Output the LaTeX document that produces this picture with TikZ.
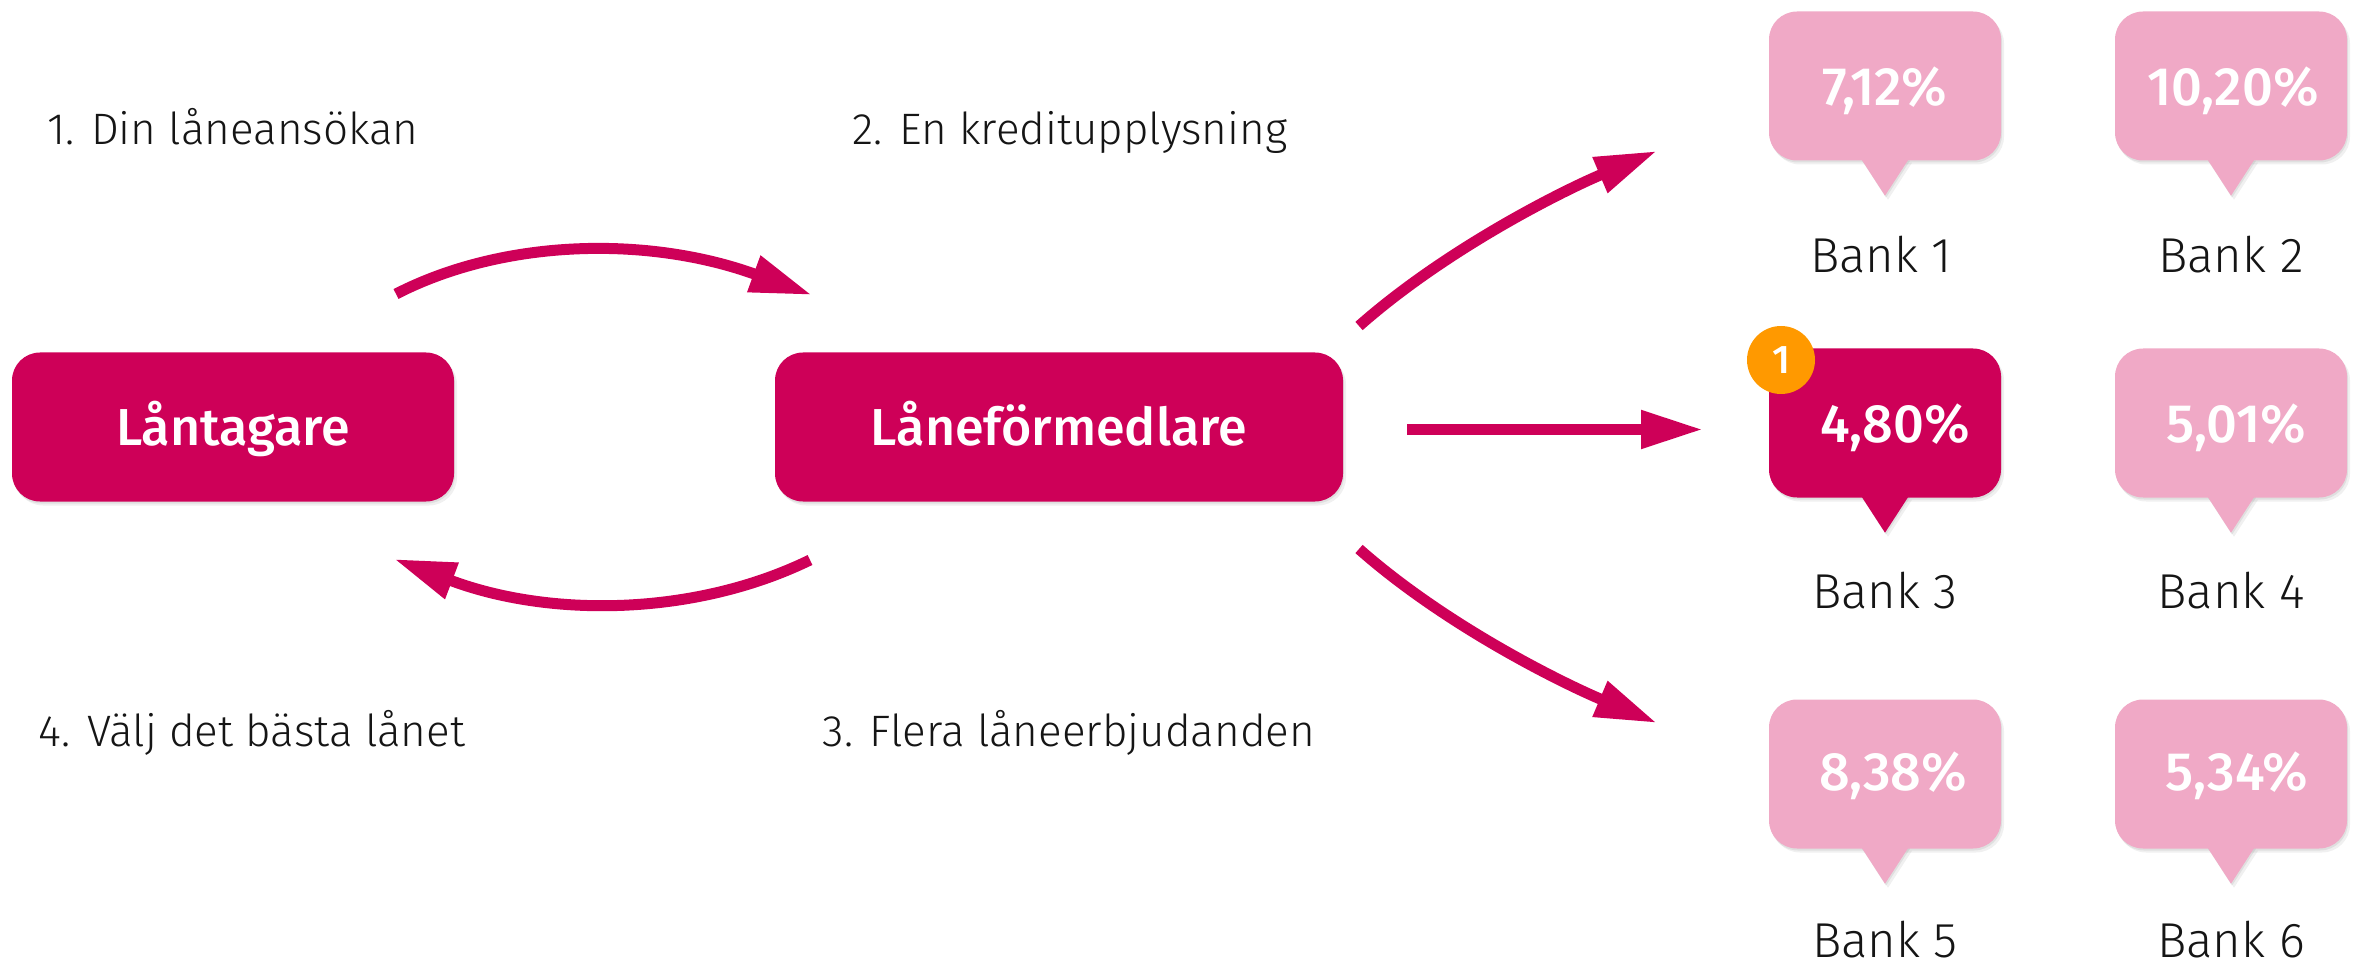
\documentclass[tikz,border=0pt]{standalone}
\usepackage{fontspec}
\setmainfont{Fira Sans}[UprightFont=* Light, BoldFont=* Medium]
\usepackage{tikz}
\usetikzlibrary{arrows.meta, shadows}
\definecolor{lanred}{HTML}{CE0058}
\definecolor{lanpink}{HTML}{F0A9C6}
\definecolor{lanorange}{HTML}{FF9900}
\definecolor{lantext}{HTML}{151515}
\tikzset{
  softshadow/.style = {drop shadow={shadow xshift=1pt, shadow yshift=-2pt, fill=black, opacity=.07}, drop shadow={shadow xshift=3pt, shadow yshift=-4pt, fill=black, opacity=.06}},
  mainbox/.style = {rectangle, rounded corners=28pt, fill=lanred, text=white, inner sep=0pt, minimum height=149pt, text height=44pt, text depth=6pt, softshadow, font=\fontsize{52}{60}\selectfont\bfseries},
  bubble_on/.style = {rectangle, rounded corners=28pt, fill=lanred, inner sep=0pt, minimum width=232pt, minimum height=149pt, softshadow},
  bubble_off/.style = {bubble_on, fill=lanpink},
  tail_on/.style = {fill=lanred, softshadow},
  tail_off/.style = {fill=lanpink, softshadow},
  rate/.style = {text=white, inner sep=0pt, font=\fontsize{54}{62}\selectfont\bfseries},
  bankname/.style = {text=lantext, inner sep=0pt, font=\fontsize{49}{58}\selectfont},
  steptext/.style = {text=lantext, inner sep=0pt, text height=32pt, text depth=10pt, font=\fontsize{44}{52}\selectfont},
  badge/.style = {circle, fill=lanorange, text=white, inner sep=0pt, minimum size=68pt, font=\fontsize{40}{48}\selectfont\bfseries},
  flow/.style = {draw=lanred, line width=11pt, -{Triangle[length=62pt, width=36pt]}}
}
\begin{document}
\begin{tikzpicture}[x=1pt, y=-1pt]
    \useasboundingbox (0,0) rectangle (2364,973);

    \node[mainbox, minimum width=442pt] (lantagare) at (233,427) {Låntagare};
    \node[mainbox, minimum width=568pt] (formedlare) at (1059,427) {Låneförmedlare};

    \node[steptext] (step1) at (233,134) {1. Din låneansökan};
    \node[steptext] (step2) at (1070,134) {2. En kreditupplysning};
    \node[steptext] (step3) at (1069,735) {3. Flera låneerbjudanden};
    \node[steptext] (step4) at (252,735) {4. Välj det bästa lånet};

    % bubblor
    \node[bubble_off] (bubble1) at (1885,86) {};
    \node[bubble_off] (bubble2) at (2231,86) {};
    \node[bubble_on] (bubble3) at (1885,423) {};
    \node[bubble_off] (bubble4) at (2231,423) {};
    \node[bubble_off] (bubble5) at (1885,774) {};
    \node[bubble_off] (bubble6) at (2231,774) {};
    \fill[tail_off] (bubble1.south) ++(-24,-2) -- ++(48,0) -- ++(-24,37) -- cycle;
    \fill[tail_off] (bubble2.south) ++(-24,-2) -- ++(48,0) -- ++(-24,37) -- cycle;
    \fill[tail_on] (bubble3.south) ++(-24,-2) -- ++(48,0) -- ++(-24,37) -- cycle;
    \fill[tail_off] (bubble4.south) ++(-24,-2) -- ++(48,0) -- ++(-24,37) -- cycle;
    \fill[tail_off] (bubble5.south) ++(-24,-2) -- ++(48,0) -- ++(-24,37) -- cycle;
    \fill[tail_off] (bubble6.south) ++(-24,-2) -- ++(48,0) -- ++(-24,37) -- cycle;

    \node[rate] (rate1) at (1885,91) {7,12\%};
    \node[rate] (rate2) at (2233,91) {10,20\%};
    \node[rate] (rate3) at (1895,428) {4,80\%};
    \node[rate] (rate4) at (2236,428) {5,01\%};
    \node[rate] (rate5) at (1893,776) {8,38\%};
    \node[rate] (rate6) at (2237,776) {5,34\%};

    \node[bankname] (bank1) at (1881,255) {Bank 1};
    \node[bankname] (bank2) at (2231,255) {Bank 2};
    \node[bankname] (bank3) at (1885,591) {Bank 3};
    \node[bankname] (bank4) at (2231,591) {Bank 4};
    \node[bankname] (bank5) at (1885,940) {Bank 5};
    \node[bankname] (bank6) at (2231,940) {Bank 6};

    \node[badge] (badge1) at (1781,360) {1};

    % pilarnas fria ändar
    \coordinate (out1) at (396,294);
    \coordinate (in1) at (812,295);
    \coordinate (out2) at (810,560);
    \coordinate (in2) at (394,559);
    \coordinate (fan) at (1359,326);
    \coordinate (fantop) at (1657,151);
    \coordinate (mid) at (1407,429.5);
    \coordinate (midend) at (1703,429.5);
    \coordinate (low) at (1359,549);
    \coordinate (lowend) at (1657,723);

    \draw[flow] (out1) .. controls (505,238) and (650,236) .. (in1);
    \draw[flow] (out2) .. controls (695,616) and (550,618) .. (in2);
    \draw[flow] (fan) .. controls (1445,250) and (1560,192) .. (fantop);
    \draw[flow] (mid) -- (midend);
    \draw[flow] (low) .. controls (1445,625) and (1560,682) .. (lowend);
\end{tikzpicture}
\end{document}
